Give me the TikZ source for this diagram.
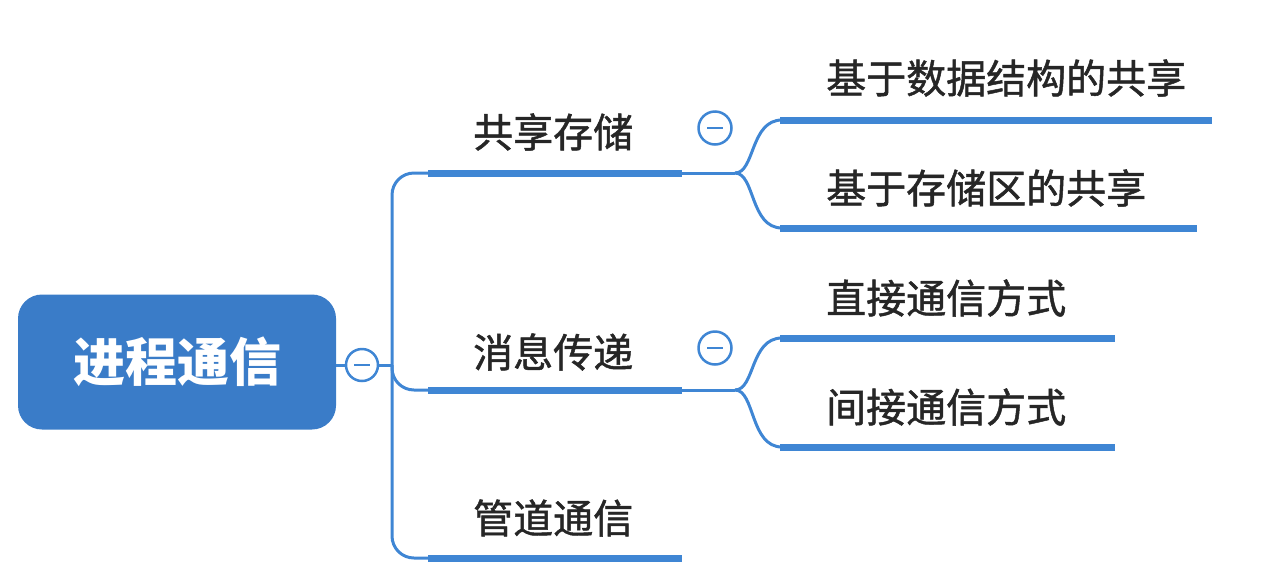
\documentclass[tikz,border=0pt]{standalone}
\usepackage{fontspec}
\newfontfamily\cjk{Noto Sans CJK SC}
\newfontfamily\cjkm[FakeBold=1.2]{Noto Sans CJK SC}
\definecolor{blu}{HTML}{3F86D4}
\definecolor{rootc}{HTML}{3A7CC8}
\begin{document}
\begin{tikzpicture}[x=1pt,y=-1pt,
  thin line/.style={blu,line width=3pt},
  under/.style={blu,line width=7pt},
  lab/.style={font=\cjkm\fontsize{40}{43}\selectfont,text=black!85,anchor=west,inner sep=0},
  fold/.style={circle,draw=blu,line width=2.5pt,fill=white,minimum size=32pt,inner sep=0}]
\useasboundingbox (0,0) rectangle (1282,582);
\node[fill=rootc,rounded corners=24pt,minimum width=318pt,minimum height=135pt,text=white,font=\cjk\bfseries\fontsize{52}{56}\selectfont] (root) at (177,362) {进程通信};
% trunk
\draw[thin line,rounded corners=22pt] (428,173) -- (392,173) -- (392,558) -- (428,558);
\draw[thin line,rounded corners=22pt] (392,365) -- (392,390) -- (428,390);
\draw[thin line] (336,365) -- (392,365);
\node[fold] (f0) at (362,365) {};
\draw[blu,line width=2.5pt] (354,365) -- (370,365);
% level 1
\draw[under] (428,173) -- (682,173);
\draw[under] (428,390) -- (682,390);
\draw[under] (428,558) -- (682,558);
\node[lab] (a) at (473,132) {共享存储};
\node[lab] (b) at (473,352) {消息传递};
\node[lab] (c) at (473,518) {管道通信};
% branches
\foreach \y/\u/\d in {173/120/228, 390/338/447}{
  \draw[thin line] (682,\y) -- (735,\y);
  \draw[thin line] (735,\y) .. controls (755,\y) and (750,\u) .. (782,\u);
  \draw[thin line] (735,\y) .. controls (755,\y) and (750,\d) .. (782,\d);
}
\node[fold,minimum size=33pt] (f1) at (715,128) {};
\draw[blu,line width=2.5pt] (707,128) -- (723,128);
\node[fold,minimum size=33pt] (f2) at (715,348) {};
\draw[blu,line width=2.5pt] (707,348) -- (723,348);
% children
\draw[under] (780,120) -- (1212,120);
\draw[under] (780,228) -- (1197,228);
\draw[under] (780,338) -- (1115,338);
\draw[under] (780,447) -- (1115,447);
\node[lab] (a1) at (826,78) {基于数据结构的共享};
\node[lab] (a2) at (826,188) {基于存储区的共享};
\node[lab] (b1) at (826,298) {直接通信方式};
\node[lab] (b2) at (826,407) {间接通信方式};
\end{tikzpicture}
\end{document}
